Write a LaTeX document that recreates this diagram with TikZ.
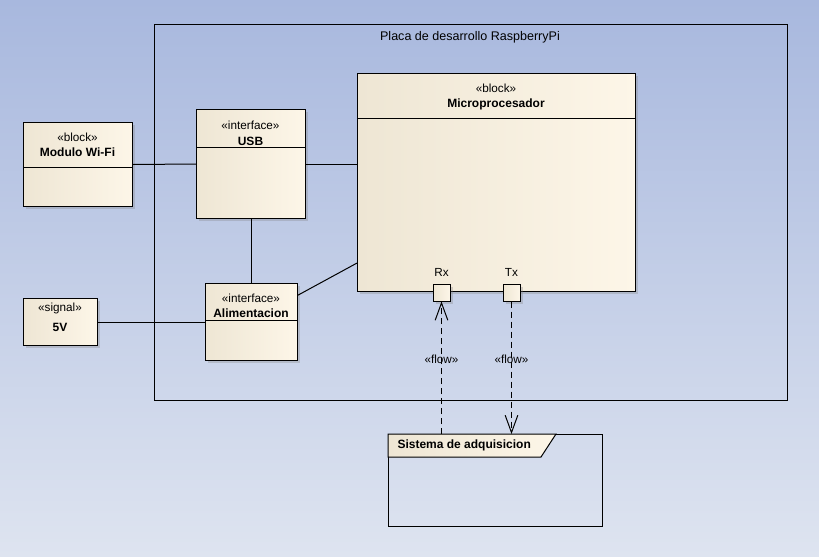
\documentclass[tikz,border=0pt]{standalone}
\usepackage{fontspec}
\setmainfont{Liberation Sans}
\usetikzlibrary{arrows.meta,calc,shadows,positioning}
\definecolor{bgtop}{RGB}{168,184,222}
\definecolor{bgbot}{RGB}{222,228,240}
\definecolor{creamL}{RGB}{238,230,212}
\definecolor{creamR}{RGB}{253,246,232}
\tikzset{
	blockbox/.style={draw, left color=creamL, right color=creamR, inner sep=0pt, anchor=north west,
		drop shadow={shadow xshift=2pt, shadow yshift=-2pt, opacity=0.3}},
	boxsize/.style 2 args={minimum width=#1*0.75pt, minimum height=#2*0.75pt},
	stereo/.style={font=\fontsize{8.8}{10}\selectfont, inner sep=0pt},
	bname/.style={font=\bfseries\fontsize{9}{11}\selectfont, inner sep=0pt},
	flowline/.style={dash pattern=on 4.5pt off 3pt},
	barb/.style={-{Straight Barb[length=13pt,width=9.5pt]}}}
\tikzset{every picture/.style={line width=0.75pt}}

\begin{document}
\begin{tikzpicture}[x=0.75pt,y=0.75pt,yscale=-1,xscale=1]
	\useasboundingbox (0,0) rectangle (819,557);
	%Background
	\shade[top color=bgtop, bottom color=bgbot] (0,0) rectangle (819,557);

	%Shape: Frame [id:placa]
	\node[draw, anchor=north west, inner sep=0pt, boxsize={633}{376}] (placa) at (154,24) {};
	% Text Node
	\node[stereo, font=\fontsize{9.4}{11}\selectfont] (placaT) at (470,37) {Placa de desarrollo RaspberryPi};

	%Shape: Block [id:micro]
	\node[blockbox, boxsize={278}{218}] (micro) at (357,73) {};
	\draw (micro.west |- 0,118) -- (micro.east |- 0,118) ;
	% Text Node
	\node[stereo] (microS) at (496,88) {«block»};
	% Text Node
	\node[bname] (microT) at (496,104) {Microprocesador};

	%Shape: Block [id:wifi]
	\node[blockbox, boxsize={109}{84}] (wifi) at (23,122) {};
	\draw (wifi.west |- 0,167) -- (wifi.east |- 0,167) ;
	% Text Node
	\node[stereo] (wifiS) at (77.5,137) {«block»};
	% Text Node
	\node[bname] (wifiT) at (77.5,152) {Modulo Wi-Fi};

	%Shape: Interface [id:usb]
	\node[blockbox, boxsize={109}{109}] (usb) at (196,109) {};
	\draw (usb.west |- 0,147) -- (usb.east |- 0,147) ;
	% Text Node
	\node[stereo] (usbS) at (250.5,125) {«interface»};
	% Text Node
	\node[bname] (usbT) at (250.5,141) {USB};

	%Shape: Interface [id:alim]
	\node[blockbox, boxsize={92}{77}] (alim) at (205,283) {};
	\draw (alim.west |- 0,320) -- (alim.east |- 0,320) ;
	% Text Node
	\node[stereo] (alimS) at (251,298) {«interface»};
	% Text Node
	\node[bname] (alimT) at (251,313) {Alimentacion};

	%Shape: Signal [id:sig]
	\node[blockbox, boxsize={74}{47}] (sig) at (23,298) {};
	% Text Node
	\node[stereo] (sigS) at (60,308) {«signal»};
	% Text Node
	\node[bname] (sigT) at (60,327) {5V};

	%Shape: Ports [id:rx, tx]
	\node[blockbox, anchor=center, boxsize={17}{17}] (rx) at (441.5,292.5) {};
	\node[blockbox, anchor=center, boxsize={17}{17}] (tx) at (511.5,292.5) {};
	% Text Node
	\node[stereo, above=5pt of rx] (rxT) {Rx};
	% Text Node
	\node[stereo, above=5pt of tx] (txT) {Tx};

	%Shape: Frame [id:adq]
	\node[draw, anchor=north west, inner sep=0pt, boxsize={214}{92}] (adq) at (388,434) {};
	\draw[left color=creamL, right color=creamR] (adq.north west) -- ($(adq.north west)+(168,0)$) -- ($(adq.north west)+(153,23)$) -- ($(adq.north west)+(0,23)$) -- cycle ;
	% Text Node
	\node[bname, anchor=west] (adqT) at (397,445) {Sistema de adquisicion};

	%Straight Lines [connectors]
	\draw (wifi.east) -- (usb.west) ;
	\draw (usb.east) -- (usb.east -| micro.west) ;
	\draw (usb.south) -- (usb.south |- alim.north) ;
	\draw (alim.30) -- (micro.210) ;
	\draw (sig.east) -- (alim.west) ;

	%Flows
	\draw[flowline, barb] (adq.north -| rx.south) -- (rx.south) node[stereo, pos=0.56] (flowrx) {«flow»} ;
	\draw[flowline, barb] (tx.south) -- (tx.south |- adq.north) node[stereo, pos=0.44] (flowtx) {«flow»} ;

\end{tikzpicture}
\end{document}
